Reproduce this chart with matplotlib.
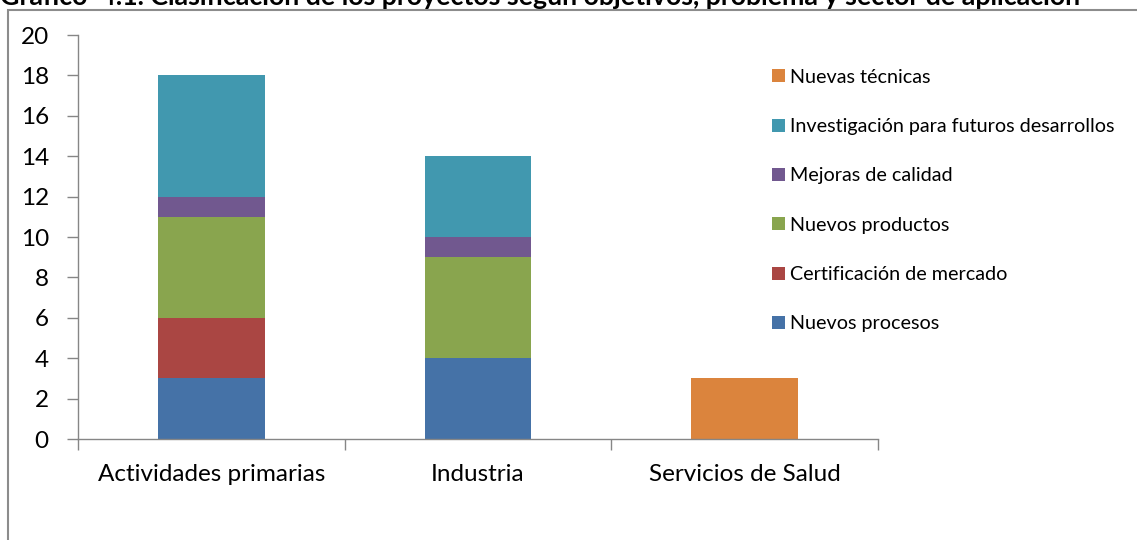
import matplotlib.pyplot as plt
from matplotlib.patches import Rectangle
import numpy as np

plt.rcParams['font.family'] = ['Lato', 'DejaVu Sans']

sectores = ['Actividades primarias', 'Industria', 'Servicios de Salud']
series = ['Nuevos procesos', 'Certificación de mercado', 'Nuevos productos',
          'Mejoras de calidad', 'Investigación para futuros desarrollos', 'Nuevas técnicas']
nuevos_procesos = [3, 4, 0]
certificacion = [3, 0, 0]
nuevos_productos = [5, 5, 0]
mejoras_calidad = [1, 1, 0]
investigacion = [6, 4, 0]
nuevas_tecnicas = [0, 0, 3]
valores = [nuevos_procesos, certificacion, nuevos_productos,
           mejoras_calidad, investigacion, nuevas_tecnicas]
colores = ['#4572A7', '#AA4643', '#89A54E', '#71588F', '#4198AF', '#DB843D']

fig = plt.figure(figsize=(11.37, 5.4), dpi=100)
ax = fig.add_axes([78 / 1137, 1 - 439 / 540, 800 / 1137, 404 / 540])

x = np.arange(len(sectores))
base = np.zeros(len(sectores))
handles = []
for nombre, vals, c in zip(series, valores, colores):
    b = ax.bar(x, vals, 0.4, bottom=base, color=c, label=nombre)
    handles.append(b)
    base += np.array(vals)

gris = '#868686'
ax.set_xlim(-0.5, 2.5)
ax.set_ylim(0, 20)
ax.set_yticks(range(0, 21, 2))
ax.set_xticks(x)
ax.set_xticklabels(sectores, fontsize=17.5)
ax.set_xticks([-0.5, 0.5, 1.5, 2.5], minor=True)
ax.tick_params(axis='x', which='major', length=0, pad=18)
ax.tick_params(axis='x', which='minor', length=8, color=gris, width=1)
ax.tick_params(axis='y', length=8, color=gris, width=1, labelsize=17.5, pad=13)
for s in ['top', 'right']:
    ax.spines[s].set_visible(False)
for s in ['left', 'bottom']:
    ax.spines[s].set_color(gris)
    ax.spines[s].set_linewidth(1)

leg = ax.legend(handles[::-1], series[::-1], loc='upper left',
                bbox_to_anchor=(754 / 1137, 1 - 51 / 540), bbox_transform=fig.transFigure,
                frameon=False, fontsize=14.2, handlelength=0.65, handleheight=0.65,
                handletextpad=0.3, labelspacing=1.64)

# marco del gráfico
fig.patches.append(Rectangle((8 / 1137, -0.1), 1.2, 1 - 10 / 540 + 0.1,
                             transform=fig.transFigure, fill=False,
                             edgecolor='#8c8c8c', linewidth=1.5))

fig.text(0, 1 - 5 / 540,
         'Gráfico  4.1. Clasificación de los proyectos según objetivos, problema y sector de aplicación',
         fontsize=19.3, fontweight='bold', va='baseline', ha='left')

fig.savefig('out.png', dpi=100)
